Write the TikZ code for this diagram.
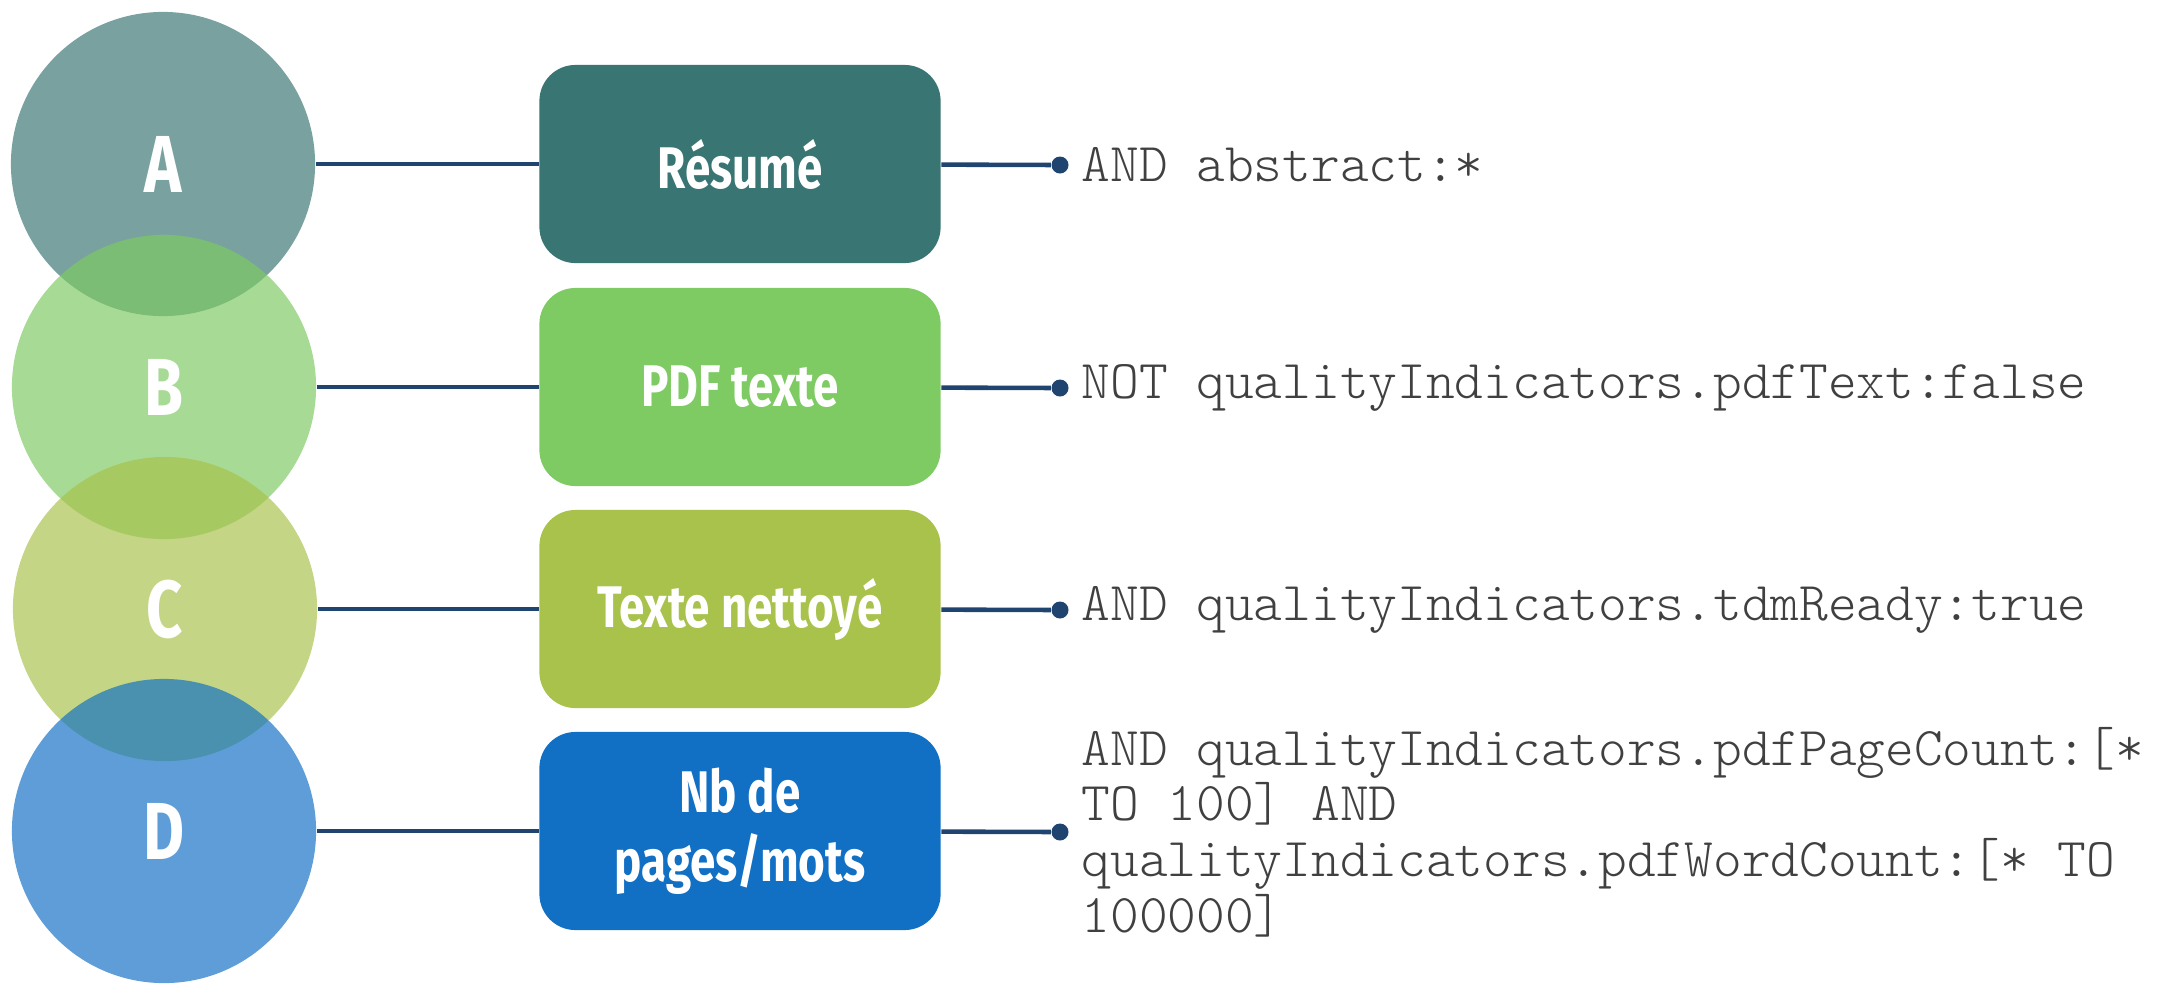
\documentclass[tikz,border=0pt]{standalone}
\usepackage{fontspec}
\newfontfamily\lblfont[FakeStretch=0.78]{Fira Sans}
\newfontfamily\qryfont{Latin Modern Mono Light}
\usetikzlibrary{positioning, calc}

\definecolor{tealA}{HTML}{397573}
\definecolor{greenB}{HTML}{7ECA63}
\definecolor{oliveC}{HTML}{A8C24B}
\definecolor{blueD}{HTML}{116FC4}
\definecolor{navy}{HTML}{1F4470}
\definecolor{querygray}{HTML}{404040}

\begin{document}
\begin{tikzpicture}[
    x=0.01cm, y=-0.01cm,
    bubble/.style={circle, minimum size=3.04cm, inner sep=0pt, fill opacity=0.68, text opacity=1,
        text=white, font=\lblfont\bfseries\fontsize{23}{26}\selectfont},
    catbox/.style={draw=none, rounded corners=0.36cm, minimum width=4.01cm, minimum height=1.98cm,
        text=white, align=center, font=\lblfont\bfseries\fontsize{16.7}{19.5}\selectfont},
    link/.style={draw=navy, line width=1.3pt},
    pin/.style={circle, fill=navy, minimum size=0.17cm, inner sep=0pt},
    query/.style={anchor=west, text=querygray, align=left, inner sep=0pt,
        font=\qryfont\fontsize{15.55}{15.8}\selectfont}
]
\useasboundingbox (0,0) rectangle (2161,984);
% Circles on the left
\node[bubble, fill=tealA]  (cA) at (163,164) {A};
\node[bubble, fill=greenB] (cB) at (164,387) {B};
\node[bubble, fill=oliveC] (cC) at (165,609) {C};
\node[bubble, fill=blueD]  (cD) at (164,831) {D};
% Boxes in the middle
\node[catbox, fill=tealA]  (bA) at (740,164) {Résumé};
\node[catbox, fill=greenB] (bB) at (740,387) {PDF texte};
\node[catbox, fill=oliveC] (bC) at (740,609) {Texte nettoyé};
\node[catbox, fill=blueD]  (bD) at (740,831) {Nb de\\pages/mots};
% Pins
\node[pin] (pA) at (1060,165) {};
\node[pin] (pB) at (1060,388) {};
\node[pin] (pC) at (1060,610) {};
\node[pin] (pD) at (1060,832) {};
% Connectors
\foreach \k in {A,B,C,D} {
  \draw[link] (c\k) -- (b\k);
  \draw[link] (b\k) -- (p\k);
}
% Queries
\node[query] (qA) at (1081,165) {AND abstract:*};
\node[query] (qB) at (1081,388) {NOT qualityIndicators.pdfText:false};
\node[query] (qC) at (1081,610) {AND qualityIndicators.tdmReady:true};
\node[query] (qD) at (1081,832) {AND qualityIndicators.pdfPageCount:[*\\TO 100] AND\\qualityIndicators.pdfWordCount:[* TO\\100000]};
\end{tikzpicture}
\end{document}
